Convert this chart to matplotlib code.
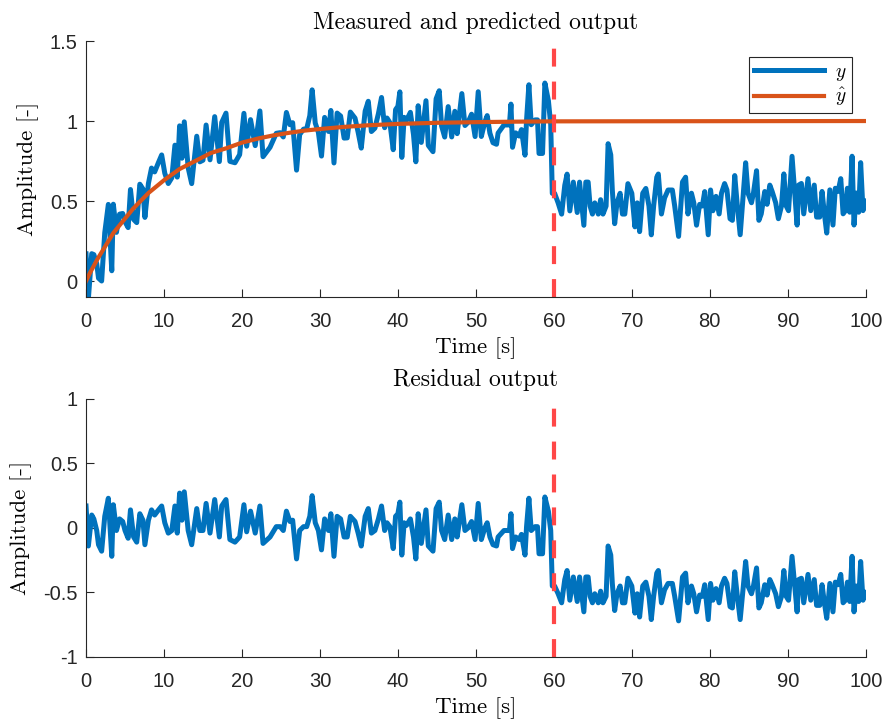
import numpy as np
import matplotlib
matplotlib.use("Agg")
import matplotlib.pyplot as plt
from matplotlib.ticker import FuncFormatter, MultipleLocator

plt.rcParams['mathtext.fontset'] = 'cm'
plt.rcParams['axes.unicode_minus'] = False

# residual readings (time [s], residual [-]) taken off the lower plot
t_res = [0.0, 0.3, 0.73, 1.0, 1.37, 1.6, 2.0, 2.4, 2.86, 3.3, 3.5, 3.9, 4.3, 4.7, 5.0, 5.4, 5.7, 6.1, 6.5,
         6.9, 7.3, 7.55, 8.0, 8.4, 8.8, 9.3, 9.7, 10.1, 10.55, 11.0, 11.4, 11.7, 12.0, 12.3, 12.6,
         13.1, 13.55, 14.2, 14.6, 15.0, 15.4, 15.9, 16.5, 17.1, 17.4, 17.95, 18.45, 19.1, 19.7, 20.25,
         20.6, 21.1, 21.7, 22.3, 22.7, 23.6, 24.4, 24.9, 25.3, 25.7, 26.15, 26.5, 27.0, 27.4, 27.9,
         28.3, 28.7, 29.0, 29.4, 29.8, 30.2, 30.6, 31.1, 31.4, 31.8, 32.2, 32.65, 33.1, 33.5, 33.9,
         34.5, 34.9, 35.3, 35.8, 36.2, 36.6, 37.05, 37.5, 37.9, 38.3, 38.6, 38.97, 39.4, 39.7, 40.0,
         40.25, 40.5, 40.8, 41.1, 41.6, 42.0, 42.3, 42.6, 43.0, 43.6, 43.9, 44.5, 44.9, 45.3, 45.6,
         46.0, 46.45, 46.9, 47.3, 47.6, 48.2, 48.6, 49.0, 49.45, 49.9, 50.3, 50.7, 51.15, 51.45, 51.8,
         52.2, 52.65, 52.85, 53.3, 53.6, 53.9, 54.3, 54.5, 54.7, 55.1, 55.55, 55.85, 56.3, 56.5, 56.8,
         57.1, 57.6, 57.9, 58.1, 58.55, 58.85, 59.3, 59.6, 59.8, 60.1, 60.55, 61.0, 61.4, 61.7, 62.05,
         62.5, 63.0, 63.3, 63.85, 64.1, 64.4, 64.65, 64.95, 65.25, 65.7, 66.0, 66.3, 66.7, 66.96, 67.3,
         67.5, 67.8, 68.1, 68.5, 68.8, 69.1, 69.5, 70.0, 70.4, 70.7, 71.0, 71.4, 71.8, 72.2, 72.5,
         72.8, 73.2, 73.4, 73.8, 74.2, 74.65, 75.2, 75.5, 76.0, 76.5, 76.9, 77.2, 77.65, 77.95, 78.3,
         78.7, 79.05, 79.35, 79.8, 80.1, 80.4, 80.8, 81.2, 81.5, 81.9, 82.2, 82.6, 82.9, 83.2, 83.5,
         83.9, 84.3, 84.6, 84.9, 85.35, 85.6, 86.0, 86.3, 86.6, 87.05, 87.35, 87.7, 88.0, 88.45, 88.8,
         89.2, 89.5, 89.8, 90.1, 90.55, 90.9, 91.2, 91.4, 91.75, 92.05, 92.3, 92.6, 92.95, 93.4, 93.7,
         94.1, 94.4, 94.7, 95.0, 95.4, 95.8, 96.1, 96.45, 96.8, 97.1, 97.4, 97.65, 97.95, 98.25, 98.5,
         98.8, 99.1, 99.35, 99.65, 100.0]
residual = [0.17, -0.14, 0.10, 0.07, -0.02, -0.13, -0.18, 0.09, 0.23, -0.22, 0.18, -0.02, 0.07, 0.05, -0.02,
            -0.08, 0.14, -0.07, -0.11, 0.11, 0.06, -0.13, 0.06, 0.14, 0.10, 0.14, 0.17, 0.04, -0.04, -0.02,
            0.17, -0.04, 0.27, 0.06, 0.28,
            -0.02, -0.13, 0.15, -0.02, -0.02, 0.19, -0.04, 0.22, -0.07, 0.17, 0.22, -0.09, -0.11, -0.07, 0.18,
            -0.03, 0.13, -0.04, 0.17, -0.12, -0.07, 0.01, 0.01, -0.02, 0.13, 0.05, 0.06, -0.24, -0.02, 0.01,
            0.01, 0.09, 0.25, 0.04, -0.02, -0.17, 0.07, -0.02, 0.11, -0.22, 0.09, 0.07, -0.07, -0.07, 0.09,
            0.05, -0.04, -0.14, 0.09, 0.15, -0.04, -0.02, 0.07, 0.17, -0.02, 0.04, 0.01, -0.16, 0.09, 0.11,
            0.20, -0.21, 0.04, 0.02, 0.07, -0.07, -0.24, 0.11, -0.12, 0.14, -0.14, -0.18, 0.15, 0.20, -0.02,
            -0.09, 0.10, -0.09, 0.07, -0.07, 0.18, -0.02, 0.00, 0.05, -0.09, 0.19, -0.09, 0.00, 0.04, -0.07,
            -0.13, -0.14, -0.07, -0.04, -0.02, -0.02, -0.02, 0.11, -0.16, -0.07, -0.09, -0.05, -0.21, 0.01, 0.23,
            -0.02, 0.01, 0.01, -0.20, -0.20, 0.24, 0.13, -0.02, -0.45, -0.45, -0.51, -0.58, -0.40, -0.33, -0.56,
            -0.38, -0.57, -0.38, -0.65, -0.38, -0.38, -0.53, -0.58, -0.51, -0.58, -0.49, -0.58, -0.53, -0.14, -0.21,
            -0.43, -0.64, -0.51, -0.45, -0.58, -0.58, -0.39, -0.45, -0.66, -0.51, -0.69, -0.45, -0.42, -0.53, -0.71,
            -0.53, -0.35, -0.33, -0.58, -0.48, -0.43, -0.43, -0.53, -0.72, -0.38, -0.35, -0.58, -0.45, -0.51, -0.65,
            -0.52, -0.53, -0.44, -0.71, -0.43, -0.56, -0.47, -0.58, -0.45, -0.39, -0.43, -0.61, -0.62, -0.34, -0.51,
            -0.71, -0.45, -0.26, -0.45, -0.51, -0.45, -0.31, -0.62, -0.58, -0.44, -0.52, -0.40, -0.44, -0.51, -0.61,
            -0.53, -0.33, -0.53, -0.56, -0.22, -0.45, -0.65, -0.40, -0.39, -0.58, -0.48, -0.36, -0.56, -0.40, -0.60,
            -0.60, -0.44, -0.58, -0.70, -0.43, -0.65, -0.42, -0.44, -0.36, -0.58, -0.56, -0.42, -0.57, -0.22, -0.65,
            -0.45, -0.57, -0.26, -0.56, -0.50]

# predicted output readings (time [s], y_hat [-])
t_pred = [0, 0.5, 1, 1.5, 2, 2.5, 3, 3.5, 4, 5, 6, 7, 8, 9, 10, 12, 14, 16, 18, 20, 22, 24, 26, 28, 30,
          33, 36, 40, 45, 50, 55, 60, 100]
y_pred = [0.0, 0.05, 0.095, 0.14, 0.18, 0.22, 0.26, 0.30, 0.33, 0.39, 0.45, 0.50, 0.55, 0.59, 0.63, 0.70,
          0.75, 0.80, 0.83, 0.865, 0.89, 0.91, 0.926, 0.94, 0.95, 0.963, 0.973, 0.982, 0.989, 0.993, 0.996,
          0.998, 1.0]

t_change = 60

t_res = np.array(t_res)
residual = np.array(residual)
y_meas = np.interp(t_res, t_pred, y_pred) + residual

blue = '#0072BD'
orange = '#D95319'
red = '#FF4747'
dark = '#262626'
serif = 'cmr10'

fig = plt.figure(figsize=(8.87, 7.2), dpi=100)
ax1 = fig.add_axes([0.097, 0.5875, 0.879, 0.3555])
ax2 = fig.add_axes([0.097, 0.0875, 0.879, 0.3585])

fmt = FuncFormatter(lambda v, p: f'{v:g}')

ax1.plot(t_res, y_meas, color=blue, lw=3.6, label='$y$', solid_joinstyle='round')
ax1.plot(t_pred, y_pred, color=orange, lw=3.0, label=r'$\hat{y}$')
ax1.axvline(t_change, color=red, lw=3.0, ls=(0, (4.3, 3.6)))
ax1.set_ylim(-0.1, 1.5)
ax1.yaxis.set_major_locator(MultipleLocator(0.5))
ax1.set_title('Measured and predicted output', family=serif, fontsize=17, color='black', pad=9)
leg = ax1.legend(loc='upper right', bbox_to_anchor=(0.982, 0.9375), borderaxespad=0,
                 fontsize=14, handlelength=3.6, handletextpad=0.6, fancybox=False,
                 edgecolor=dark, framealpha=1, borderpad=0.25, labelspacing=0.15)
leg.get_frame().set_linewidth(0.8)

ax2.plot(t_res, residual, color=blue, lw=3.6, solid_joinstyle='round')
ax2.axvline(t_change, color=red, lw=3.0, ls=(0, (4.3, 3.6)))
ax2.set_ylim(-1, 1)
ax2.yaxis.set_major_locator(MultipleLocator(0.5))
ax2.set_title('Residual output', family=serif, fontsize=17, color='black', pad=9)

for ax in (ax1, ax2):
    ax.set_xlim(0, 100)
    ax.xaxis.set_major_locator(MultipleLocator(10))
    ax.xaxis.set_major_formatter(fmt)
    ax.yaxis.set_major_formatter(fmt)
    ax.spines['top'].set_visible(False)
    ax.spines['right'].set_visible(False)
    for s in ('left', 'bottom'):
        ax.spines[s].set_color(dark)
        ax.spines[s].set_linewidth(0.8)
    ax.tick_params(direction='in', length=6, width=0.8, colors=dark, labelsize=14.5)
    ax.tick_params(axis='x', pad=11)
    ax.tick_params(axis='y', pad=6)
    for lab in ax.get_xticklabels() + ax.get_yticklabels():
        lab.set_family('Liberation Sans')
    ax.set_xlabel('Time [s]', family=serif, fontsize=16.5, labelpad=4)
    ax.set_ylabel('Amplitude [-]', family=serif, fontsize=16.5, labelpad=8)

fig.savefig('out.png', dpi=100)
